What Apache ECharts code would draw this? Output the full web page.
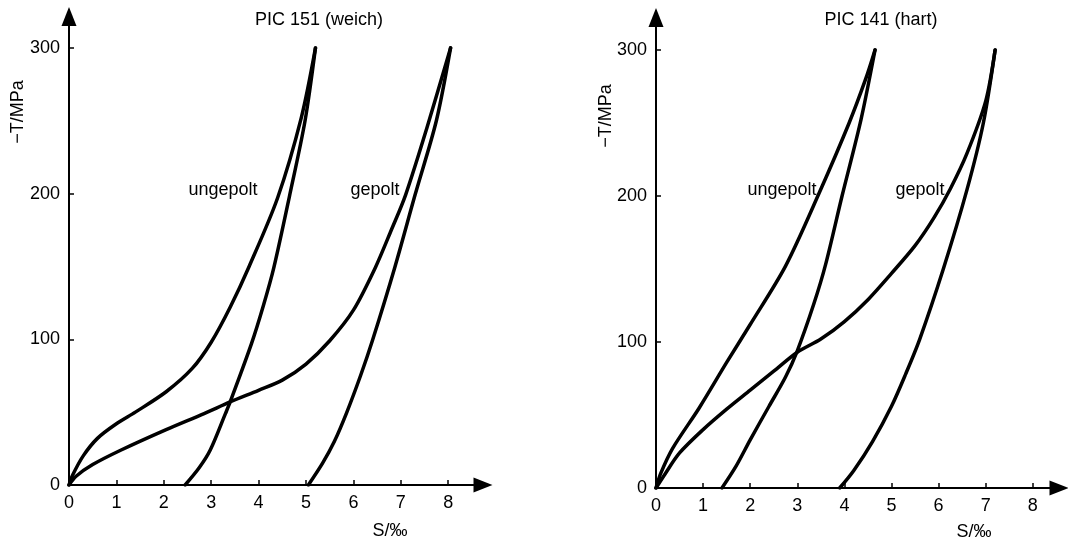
<!DOCTYPE html>
<html>
<head>
<meta charset="utf-8">
<script src="https://cdn.jsdelivr.net/npm/echarts@6/dist/echarts.min.js"></script>
<style>
html,body{margin:0;padding:0;background:#fff;}
#chart{width:1068px;height:544px;}
</style>
</head>
<body>
<div id="chart"></div>
<script>
// ---- data (S in per mille, -T in MPa) ----
const titles = ['PIC 151 (weich)', 'PIC 141 (hart)'];
const curveNames = ['ungepolt', 'gepolt'];
const xTicks = [0, 1, 2, 3, 4, 5, 6, 7, 8];
const yTicks = [0, 100, 200, 300];
const xName = 'S/‰';
const yName = '\u2212T/MPa';

// PIC 151 (weich)
const ung151Load = [[0,0],[0.08,7],[0.3,20],[0.6,32],[1.0,42],[1.4,50],[2.05,64],[2.6,80],[3.0,98],[3.4,122],[3.8,150],[4.4,197],[4.9,252],[5.2,300]];
const ung151Unload = [[2.45,0],[2.75,12],[2.98,24],[3.3,49],[3.4,57],[3.85,97],[4.1,123],[4.32,149],[4.65,198],[4.98,250],[5.2,300]];
const gep151Load = [[0,0],[0.15,6],[0.5,14],[1.1,24],[2.05,38],[2.85,49],[3.4,57],[4.0,65],[4.5,72],[5.0,83],[5.5,99],[6.0,120],[6.46,149],[6.8,175],[7.1,199],[7.55,245],[8.05,300]];
const gep151Unload = [[5.05,0],[5.35,15],[5.6,30],[5.85,49],[6.15,75],[6.4,99],[6.87,149],[7.3,199],[7.75,250],[8.05,300]];

// PIC 141 (hart)
const ung141Load = [[0,0],[0.1,10],[0.35,27],[0.92,55],[1.5,86],[2.0,112],[2.75,152],[3.45,201],[4.1,250],[4.45,280],[4.65,300]];
const ung141Unload = [[1.4,0],[1.7,15],[2.0,33],[2.4,56],[2.75,76],[3.0,94],[3.35,126],[3.6,153],[3.95,200],[4.35,252],[4.65,300]];
const gep141Load = [[0,0],[0.2,10],[0.5,24],[1.0,40],[1.5,54],[2.0,67],[2.5,80],[3.0,93],[3.5,102],[4.0,114],[4.5,129],[5.0,147],[5.5,166],[5.9,185],[6.25,205],[6.6,229],[7.0,265],[7.2,300]];
const gep141Unload = [[3.9,0],[4.2,12],[4.6,32],[5.0,56],[5.3,78],[5.6,102],[6.1,150],[6.6,204],[6.95,250],[7.2,300]];

// ---- chart ----
const FONT = 'Liberation Sans, Arial, sans-serif';
const chart = echarts.init(document.getElementById('chart'), null, {renderer: 'canvas'});

function xAxis(gi, max) {
  return {
    type: 'value', gridIndex: gi, min: 0, max: max,
    axisLine: {show: true, onZero: false, lineStyle: {color: '#000', width: 2}, symbol: ['none', 'triangle'], symbolSize: [15, 19]},
    axisTick: {show: true, inside: true, length: 5, lineStyle: {color: '#000', width: 1.5}, customValues: xTicks},
    axisLabel: {color: '#000', fontSize: 18, fontFamily: FONT, margin: 9, customValues: xTicks},
    splitLine: {show: false}
  };
}
function yAxis(gi, max) {
  return {
    type: 'value', gridIndex: gi, min: 0, max: max,
    axisLine: {show: true, onZero: false, lineStyle: {color: '#000', width: 2}, symbol: ['none', 'triangle'], symbolSize: [15, 19]},
    axisTick: {show: true, inside: true, length: 5, lineStyle: {color: '#000', width: 1.5}, customValues: yTicks},
    axisLabel: {color: '#000', fontSize: 18, fontFamily: FONT, margin: 9, customValues: yTicks},
    splitLine: {show: false}
  };
}
function curve(data, gi) {
  return {
    type: 'line', xAxisIndex: gi, yAxisIndex: gi, data: data,
    showSymbol: false, symbol: 'none', smooth: 0.3,
    lineStyle: {color: '#000', width: 3.5, join: 'round', cap: 'round'}, silent: true, animation: false
  };
}
function txt(x, y, s, rot) {
  return {
    type: 'text', x: x, y: y, rotation: rot || 0,
    style: {text: s, fill: '#000', font: '18px ' + FONT, align: 'center', verticalAlign: 'middle'}
  };
}

chart.setOption({
  backgroundColor: '#fff',
  animation: false,
  grid: [
    {left: 69, right: 1068 - 483, top: 16.5, bottom: 544 - 485},
    {left: 656, right: 1068 - 1059, top: 17.5, bottom: 544 - 488}
  ],
  xAxis: [xAxis(0, (483 - 69) / 47.4), xAxis(1, (1059 - 656) / 47.1)],
  yAxis: [yAxis(0, (485 - 16.5) / 1.457), yAxis(1, (488 - 17.5) / 1.46)],
  series: [
    curve(ung151Load, 0), curve(ung151Unload, 0), curve(gep151Load, 0), curve(gep151Unload, 0),
    curve(ung141Load, 1), curve(ung141Unload, 1), curve(gep141Load, 1), curve(gep141Unload, 1)
  ],
  graphic: [
    txt(319, 20, titles[0]),
    txt(881, 20, titles[1]),
    txt(223, 190, curveNames[0]),
    txt(375, 190, curveNames[1]),
    txt(782, 190, curveNames[0]),
    txt(920, 190, curveNames[1]),
    txt(18, 112, yName, Math.PI / 2),
    txt(606, 116, yName, Math.PI / 2),
    txt(390, 531, xName),
    txt(974, 532, xName)
  ]
});
</script>
</body>
</html>
